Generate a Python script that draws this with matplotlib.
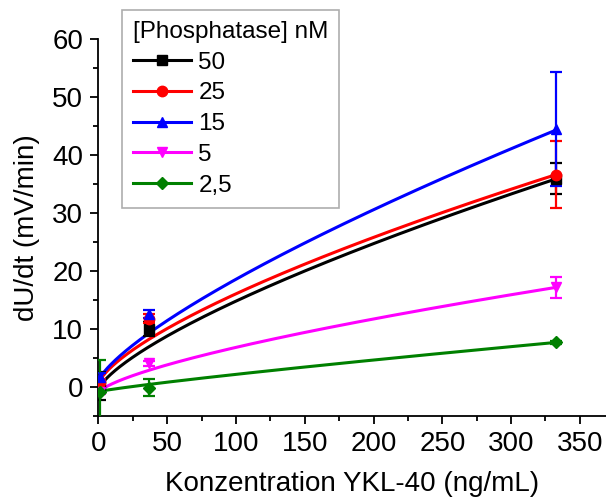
import numpy as np
import matplotlib
matplotlib.use('Agg')
import matplotlib.pyplot as plt
from matplotlib.lines import Line2D
from matplotlib.ticker import MultipleLocator

plt.rcParams['font.family'] = ['Liberation Sans', 'DejaVu Sans']

# concentrations YKL-40 (ng/mL)
conc = [1.4, 37, 333]

labels = ['50', '25', '15', '5', '2,5']
colors = ['#000000', '#FF0000', '#0000FF', '#FF00FF', '#008000']
markers = ['s', 'o', '^', 'v', 'D']

# measured dU/dt (mV/min) and errors
y_50 = [0.2, 10.0, 35.9]
e_50 = [2.4, 1.2, 2.7]
y_25 = [0.8, 11.8, 36.6]
e_25 = [0.6, 0.8, 5.8]
y_15 = [1.8, 12.6, 44.5]
e_15 = [0.6, 0.7, 9.8]
y_5 = [-0.8, 4.1, 17.2]
e_5 = [0.4, 0.4, 1.8]
y_2_5 = [-0.8, -0.1, 7.7]
e_2_5 = [5.5, 1.5, 0.3]

values = [y_50, y_25, y_15, y_5, y_2_5]
errors = [e_50, e_25, e_15, e_5, e_2_5]

# fit parameters y = y0 + b * x^c
fit_y0 = [-0.5, 0.5, 1.0, -1.0, -0.8]
fit_b = [0.556, 0.62, 0.556, 0.312, 0.0543]
fit_c = [0.72, 0.70, 0.75, 0.70, 0.87]

fig = plt.figure(figsize=(6.06, 4.99), dpi=100)
ax = fig.add_axes([0.1625, 0.1663, 0.8375, 0.7555])

xfit = np.linspace(0, conc[-1], 300)
handles = []
for i in range(len(labels)):
    yfit = fit_y0[i] + fit_b[i] * xfit ** fit_c[i]
    ax.plot(xfit, yfit, color=colors[i], lw=2.2, zorder=2)
    ms = 7.5 if markers[i] != 'D' else 6
    ax.errorbar(conc, values[i], yerr=errors[i], fmt=markers[i], color=colors[i],
                ms=ms, capsize=4, elinewidth=1.6, capthick=1.6, zorder=3)
    handles.append(Line2D([], [], color=colors[i], lw=2.2, marker=markers[i], ms=ms))

ax.set_xlim(0, 369)
ax.set_ylim(-5, 60)
ax.xaxis.set_major_locator(MultipleLocator(50))
ax.xaxis.set_minor_locator(MultipleLocator(25))
ax.yaxis.set_major_locator(MultipleLocator(10))
ax.yaxis.set_minor_locator(MultipleLocator(5))

ax.spines['top'].set_visible(False)
ax.spines['right'].set_visible(False)
ax.spines['left'].set_linewidth(1.3)
ax.spines['bottom'].set_linewidth(1.3)
ax.tick_params(which='major', direction='out', length=6, width=1.3, labelsize=20, pad=5)
ax.tick_params(which='minor', direction='out', length=3.5, width=1.3)

ax.set_xlabel('Konzentration YKL-40 (ng/mL)', fontsize=20, labelpad=10)
ax.set_ylabel('dU/dt (mV/min)', fontsize=20, labelpad=9)

leg = ax.legend(handles, labels, title='[Phosphatase] nM', loc='upper left',
                bbox_to_anchor=(0.046, 1.077), borderaxespad=0, fontsize=17.5,
                title_fontsize=17.5, fancybox=False, edgecolor='#999999',
                handlelength=2.4, handletextpad=0.3, labelspacing=0.36,
                borderpad=0.45, numpoints=1, alignment='left')
leg.get_frame().set_linewidth(1.2)

fig.savefig('out.png', dpi=100)
